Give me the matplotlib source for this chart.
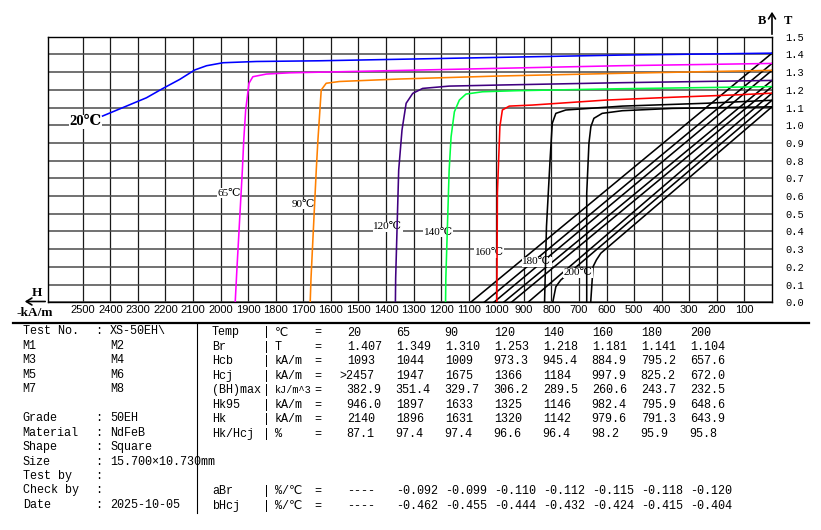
import matplotlib
matplotlib.use('Agg')
import matplotlib.pyplot as plt
from matplotlib.lines import Line2D

# ---------------- data ----------------
TEMPS = ["20", "65", "90", "120", "140", "160", "180", "200"]
BR = ["1.407", "1.349", "1.310", "1.253", "1.218", "1.181", "1.141", "1.104"]
HCB = ["1093", "1044", "1009", "973.3", "945.4", "884.9", "795.2", "657.6"]
HCJ = [">2457", "1947", "1675", "1366", "1184", "997.9", "825.2", "672.0"]
BHMAX = ["382.9", "351.4", "329.7", "306.2", "289.5", "260.6", "243.7", "232.5"]
HK95 = ["946.0", "1897", "1633", "1325", "1146", "982.4", "795.9", "648.6"]
HK = ["2140", "1896", "1631", "1320", "1142", "979.6", "791.3", "643.9"]
HK_HCJ = ["87.1", "97.4", "97.4", "96.6", "96.4", "98.2", "95.9", "95.8"]
ABR = ["----", "-0.092", "-0.099", "-0.110", "-0.112", "-0.115", "-0.118", "-0.120"]
BHCJ = ["----", "-0.462", "-0.455", "-0.444", "-0.432", "-0.424", "-0.415", "-0.404"]

X_TICKS = [2500, 2400, 2300, 2200, 2100, 2000, 1900, 1800, 1700, 1600, 1500, 1400,
           1300, 1200, 1100, 1000, 900, 800, 700, 600, 500, 400, 300, 200, 100]
Y_TICKS = [0.0, 0.1, 0.2, 0.3, 0.4, 0.5, 0.6, 0.7, 0.8, 0.9, 1.0, 1.1, 1.2, 1.3, 1.4, 1.5]
Y_LABELS = ["0.0", "0.1", "0.2", "0.3", "0.4", "0.5", "0.6", "0.7", "0.8", "0.9",
            "1.0", "1.1", "1.2", "1.3", "1.4", "1.5"]

# intrinsic (J) curves: H in kA/m, J in T
J20_H = [2428, 2269, 2209, 2148, 2094, 2051, 1991, 1870, 1641, 1100, 555, 0]
J20_B = [1.052, 1.155, 1.208, 1.259, 1.312, 1.336, 1.353, 1.360, 1.364, 1.380, 1.396, 1.407]
J65_H = [1947, 1941, 1921, 1916, 1909, 1897, 1883, 1834, 1750, 1569, 555, 0]
J65_B = [0.0, 0.182, 0.747, 0.916, 1.086, 1.237, 1.274, 1.289, 1.296, 1.302, 1.336, 1.349]
J90_H = [1675, 1672, 1653, 1647, 1635, 1617, 1569, 1352, 990, 555, 0]
J90_B = [0.0, 0.137, 0.747, 0.916, 1.199, 1.237, 1.247, 1.261, 1.278, 1.293, 1.310]
J120_H = [1366, 1365, 1354, 1342, 1327, 1303, 1267, 1171, 990, 555, 0]
J120_B = [0.0, 0.137, 0.747, 0.973, 1.124, 1.180, 1.208, 1.221, 1.227, 1.240, 1.253]
J140_H = [1184, 1183, 1171, 1164, 1152, 1134, 1110, 1050, 929, 555, 0]
J140_B = [0.0, 0.137, 0.747, 0.935, 1.076, 1.142, 1.176, 1.189, 1.195, 1.206, 1.218]
J160_H = [998, 996, 987, 978, 953, 869, 603, 362, 121, 0]
J160_B = [0.0, 0.615, 0.992, 1.086, 1.108, 1.114, 1.142, 1.158, 1.172, 1.181]
J180_H = [825, 818, 805, 797, 784, 748, 664, 543, 241, 0]
J180_B = [0.0, 0.427, 0.803, 1.011, 1.067, 1.086, 1.095, 1.108, 1.124, 1.141]
J200_H = [672, 672, 664, 657, 646, 616, 543, 362, 0]
J200_B = [0.0, 0.615, 0.898, 0.992, 1.039, 1.067, 1.082, 1.095, 1.104]

# normal (B) curves
B20_H, B20_B = [1093, 0], [0.0, 1.407]
B65_H, B65_B = [1044, 0], [0.0, 1.349]
B90_H, B90_B = [1009, 0], [0.0, 1.310]
B120_H, B120_B = [973.3, 0], [0.0, 1.253]
B140_H, B140_B = [945.4, 0], [0.0, 1.218]
B160_H, B160_B = [884.9, 0], [0.0, 1.181]
B180_H, B180_B = [795.2, 784, 766, 0], [0.0, 0.088, 0.126, 1.141]
B200_H, B200_B = [657.6, 649, 637, 621, 0], [0.0, 0.201, 0.239, 0.277, 1.104]

J_CURVES = [(J20_H, J20_B), (J65_H, J65_B), (J90_H, J90_B), (J120_H, J120_B),
            (J140_H, J140_B), (J160_H, J160_B), (J180_H, J180_B), (J200_H, J200_B)]
B_CURVES = [(B20_H, B20_B), (B65_H, B65_B), (B90_H, B90_B), (B120_H, B120_B),
            (B140_H, B140_B), (B160_H, B160_B), (B180_H, B180_B), (B200_H, B200_B)]

# ---------------- styles / layout ----------------
COLORS = ['#0000FF', '#FF00FF', '#FF8000', '#400080', '#00FF40', '#FF0000', '#000000', '#000000']
# label placement (data coords) for curve labels
LABEL_POS = [(2491, 1.020), (1969, 0.616), (1700, 0.553), (1394, 0.427),
             (1211, 0.395), (1026, 0.280), (853, 0.229), (703, 0.167)]

W, H = 821, 530
fig = plt.figure(figsize=(W / 100, H / 100), dpi=100)
fig.patch.set_facecolor('white')


def fx(px):
    return px / W


def fy(py):
    return 1 - py / H


SERIF = ['Liberation Serif', 'DejaVu Serif', 'DejaVu Sans']
MONO = ['Liberation Mono', 'DejaVu Sans Mono', 'DejaVu Sans']
SANS = ['Liberation Sans', 'DejaVu Sans']

AX_L, AX_R, AX_T, AX_B = 48, 772, 36.7, 302.3
ax = fig.add_axes([fx(AX_L), fy(AX_B), fx(AX_R) - fx(AX_L), fy(AX_T) - fy(AX_B)])
ax.set_xlim(2626, 0)
ax.set_ylim(0, 1.5)

ax.set_xticks(X_TICKS)
ax.set_xticklabels([str(t) for t in X_TICKS], fontfamily=SANS, fontsize=8)
ax.yaxis.tick_right()
ax.set_yticks(Y_TICKS)
ax.set_yticklabels(Y_LABELS, fontfamily=MONO, fontsize=7.5)
ax.tick_params(axis='x', length=0, pad=2)
ax.tick_params(axis='y', length=0, pad=9.5)
for lab in ax.get_yticklabels():
    lab.set_horizontalalignment('left')
ax.grid(axis='x', color='#1a1a1a', lw=0.9, zorder=1)
ax.grid(axis='y', color='#4a4a4a', lw=1.1, zorder=1)
ax.set_axisbelow(True)
for s in ax.spines.values():
    s.set_color('black')
    s.set_linewidth(1.0)

for hh, bb in B_CURVES:
    ax.plot(hh, bb, color='black', lw=1.15, zorder=2, solid_joinstyle='round')

for (hh, bb), c in zip(J_CURVES, COLORS):
    ax.plot(hh, bb, color=c, lw=1.15, zorder=4, solid_joinstyle='round')

for i, ((lx, ly), t) in enumerate(zip(LABEL_POS, TEMPS)):
    if i == 0:
        ax.text(lx, ly, t + '℃', fontfamily=SERIF, fontsize=10.5, fontweight='bold',
                ha='center', va='center', zorder=3,
                bbox=dict(fc='white', ec='none', pad=0.3))
    else:
        ax.text(lx, ly, t + '℃', fontfamily=SERIF, fontsize=8,
                ha='center', va='center', zorder=3,
                bbox=dict(fc='white', ec='none', pad=0.3))

# axis arrows and labels
fig.add_artist(matplotlib.patches.FancyArrowPatch(
    (fx(48), fy(301.5)), (fx(22), fy(301.5)), transform=fig.transFigure,
    arrowstyle='->,head_length=4,head_width=2.5', lw=1.2, color='black'))
fig.add_artist(matplotlib.patches.FancyArrowPatch(
    (fx(772), fy(37)), (fx(772), fy(9)), transform=fig.transFigure,
    arrowstyle='->,head_length=4,head_width=2.5', lw=1.2, color='black'))
fig.text(fx(37), fy(293.5), 'H', fontfamily=SERIF, fontsize=9.5, fontweight='bold',
         ha='center', va='center')
fig.text(fx(35), fy(313), '-kA/m', fontfamily=SERIF, fontsize=9.5, fontweight='bold',
         ha='center', va='center')
fig.text(fx(761.7), fy(20.7), 'B', fontfamily=SERIF, fontsize=9, fontweight='bold',
         ha='center', va='center')
fig.text(fx(788.3), fy(20.7), 'T', fontfamily=SERIF, fontsize=9, fontweight='bold',
         ha='center', va='center')

# ---------------- table ----------------
fig.add_artist(Line2D([fx(13), fx(809)], [fy(322.7), fy(322.7)], color='black', lw=1.6))
fig.add_artist(Line2D([fx(196.7), fx(196.7)], [fy(322.7), fy(513)], color='black', lw=0.8))

TFS = 8.5
ROW0, DROW = 332.0, 14.45

LEFT_ROWS = [("Test No.", ":", "XS-50EH\\"), ("M1", "", "M2"), ("M3", "", "M4"),
             ("M5", "", "M6"), ("M7", "", "M8"), None,
             ("Grade", ":", "50EH"), ("Material", ":", "NdFeB"), ("Shape", ":", "Square"),
             ("Size", ":", "15.700×10.730mm"), ("Test by", ":", ""),
             ("Check by", ":", ""), ("Date", ":", "2025-10-05")]
for i, row in enumerate(LEFT_ROWS):
    if row is None:
        continue
    y = fy(ROW0 + DROW * i - 0.5)
    fig.text(fx(22.7), y, row[0], fontfamily=MONO, fontsize=TFS, va='center')
    if row[1]:
        fig.text(fx(95.5), y, row[1], fontfamily=MONO, fontsize=TFS, va='center')
    if row[2]:
        fig.text(fx(110), y, row[2], fontfamily=MONO, fontsize=TFS, va='center')

RIGHT_ROWS = [(0, "Temp", "℃", TEMPS), (1, "Br", "T", BR), (2, "Hcb", "kA/m", HCB),
              (3, "Hcj", "kA/m", HCJ), (4, "(BH)max", "kJ/m^3", BHMAX),
              (5, "Hk95", "kA/m", HK95), (6, "Hk", "kA/m", HK),
              (7, "Hk/Hcj", "%", HK_HCJ), (11, "aBr", "%/℃", ABR),
              (12, "bHcj", "%/℃", BHCJ)]
for i, name, unit, vals in RIGHT_ROWS:
    y = fy(ROW0 + DROW * i + 0.5)
    fig.text(fx(212), y, name, fontfamily=MONO, fontsize=TFS, va='center')
    fig.text(fx(263), y, "|", fontfamily=MONO, fontsize=TFS, va='center')
    ufs = 7.3 if len(unit) > 4 else TFS
    fig.text(fx(275), y, unit, fontfamily=MONO, fontsize=ufs, va='center')
    fig.text(fx(314), y, "=", fontfamily=MONO, fontsize=TFS, va='center')
    for k, v in enumerate(vals):
        xx = 346.7 + 49 * k
        if v.startswith('>'):
            xx -= 7
        fig.text(fx(xx), y, v, fontfamily=MONO, fontsize=TFS, va='center')

fig.savefig('out.png', dpi=100, facecolor='white')
